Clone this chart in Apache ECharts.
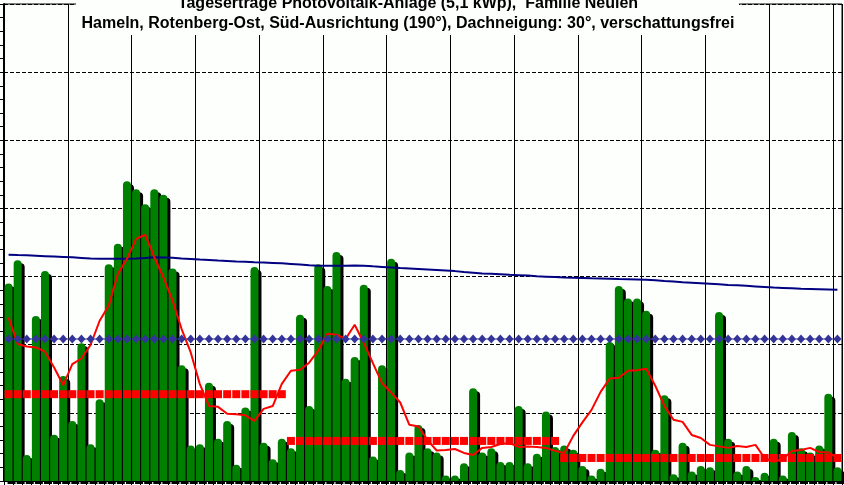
<!DOCTYPE html>
<html>
<head>
<meta charset="utf-8">
<script src="https://cdn.jsdelivr.net/npm/echarts@6/dist/echarts.min.js"></script>
<style>
  html, body { margin: 0; padding: 0; background: #fdfffd; }
  #chart { width: 844px; height: 485px; }
</style>
</head>
<body>
<div id="chart"></div>
<script>
// days per month shown and the monthly average (red squares)
const monthDays = [31, 30, 31];
const monthAvg = [6.37, 2.94, 1.69];

// daily yield (green bars)
const dailyYield = [
  14.5, 16.2, 1.9, 12.1, 15.4, 3.4, 7.7, 4.4, 10.1, 2.7, 6.0, 15.9, 17.4, 22.0, 21.4, 20.3,
  21.4, 21.0, 15.6, 8.5, 2.6, 2.7, 7.2, 3.1, 4.4, 1.2, 5.4, 15.7, 2.8, 1.6, 3.1,
  2.4, 12.2, 5.5, 15.9, 14.3, 16.8, 7.5, 9.1, 14.4, 1.8, 8.5, 16.3, 0.8, 2.1, 4.1,
  2.4, 2.1, 0.4, 0.4, 1.3, 6.8, 2.1, 2.4, 1.4, 1.4, 5.5, 1.3, 2.0, 5.1, 2.5,
  2.6, 2.3, 1.1, 0.4, 0.9, 10.2, 14.3, 13.4, 13.4, 12.5, 2.3, 6.3, 0.5, 2.8, 0.7, 1.1,
  1.0, 12.4, 3.1, 0.7, 1.1, 0.3, 0.6, 3.1, 0.4, 3.6, 2.4, 2.1, 2.6, 6.4, 1.0
];

// running mean (thin red line)
const runningMean = [
  12.0, 10.05, 9.87, 9.8, 9.49, 8.33, 7.04, 8.58, 8.99, 9.98, 11.76, 12.87, 15.2, 16.3, 17.77, 18.07,
  16.42, 14.95, 13.24, 11.15, 9.43, 7.11, 5.51, 5.44, 4.93, 4.89, 4.82, 4.41, 5.29, 5.5, 7.13,
  8.09, 8.16, 8.68, 9.56, 10.81, 10.74, 10.42, 11.47, 10.13, 8.65, 7.18, 6.49, 5.76, 4.12, 4.0,
  3.0, 2.24, 2.28, 2.35, 2.06, 1.91, 2.43, 2.5, 2.72, 2.79, 2.5, 2.54, 2.5, 2.43, 2.21,
  2.06, 3.31, 4.3, 5.22, 6.54, 7.52, 7.57, 8.09, 8.13, 8.24, 6.99, 5.51, 4.49, 4.34, 3.38, 3.16,
  2.65, 2.54, 2.43, 2.57, 2.5, 2.65, 1.69, 1.4, 1.62, 2.21, 2.28, 2.43, 2.13, 2.1, 1.69
];

// expected yield (navy line)
const expected = [
  16.61, 16.58, 16.56, 16.53, 16.5, 16.47, 16.44, 16.41, 16.37, 16.33, 16.3, 16.3, 16.3, 16.3, 16.32, 16.36,
  16.41, 16.4, 16.38, 16.33, 16.29, 16.25, 16.22, 16.18, 16.15, 16.11, 16.08, 16.05, 16.03, 16.0, 15.97,
  15.93, 15.89, 15.83, 15.8, 15.8, 15.8, 15.8, 15.81, 15.8, 15.75, 15.71, 15.67, 15.63, 15.6, 15.56,
  15.52, 15.48, 15.44, 15.4, 15.33, 15.28, 15.23, 15.2, 15.17, 15.13, 15.1, 15.07, 15.02, 14.99, 14.96,
  14.93, 14.91, 14.89, 14.87, 14.86, 14.84, 14.82, 14.81, 14.79, 14.77, 14.73, 14.68, 14.64, 14.59, 14.55, 14.51,
  14.47, 14.43, 14.39, 14.36, 14.32, 14.28, 14.24, 14.2, 14.17, 14.14, 14.11, 14.09, 14.07, 14.05, 14.03
];

// long term average (blue diamonds)
const yearAvg = 10.42;

const titleLines = [
  "Tageserträge Photovoltaik-Anlage (5,1 kWp),  Familie Neulen",
  "Hameln, Rotenberg-Ost, Süd-Ausrichtung (190°), Dachneigung: 30°, verschattungsfrei"
];

const days = [];
const monthLine = [];
monthDays.forEach(function (n, m) {
  for (let d = 1; d <= n; d++) {
    days.push((m + 1) + "-" + d);
    monthLine.push(monthAvg[m]);
  }
});
const avgLine = days.map(function () { return yearAvg; });

const chart = echarts.init(document.getElementById("chart"));
const titleFont = "bold 16px 'Liberation Sans', Arial, sans-serif";

chart.setOption({
  animation: false,
  backgroundColor: "#fdfffd",
  grid: {
    left: 4, right: 2, top: 4, bottom: 4,
    show: true, borderColor: "#000", borderWidth: 1
  },
  xAxis: {
    type: "category",
    data: days,
    boundaryGap: true,
    axisLine: { lineStyle: { color: "#000", width: 2 } },
    axisTick: { show: true, interval: 0, length: 4, lineStyle: { color: "#000" } },
    axisLabel: { show: false },
    splitLine: {
      show: true,
      interval: function (i) { return i % 7 === 0; },
      lineStyle: { color: "#000", width: 1 }
    }
  },
  yAxis: {
    type: "value",
    min: 0, max: 35, interval: 5,
    axisLine: { show: true, lineStyle: { color: "#000", width: 2 } },
    axisTick: { show: true, length: 4, lineStyle: { color: "#000" } },
    minorTick: { show: true, splitNumber: 5, length: 4, lineStyle: { color: "#000" } },
    axisLabel: { show: false },
    splitLine: { show: true, lineStyle: { color: "#000", width: 1, type: [4, 2] } }
  },
  series: [
    {
      type: "bar",
      data: dailyYield,
      barWidth: 8,
      itemStyle: {
        color: "#008000",
        borderRadius: [4, 4, 0, 0],
        shadowColor: "#000",
        shadowBlur: 0,
        shadowOffsetX: 3,
        shadowOffsetY: 3
      }
    },
    {
      type: "line",
      data: expected,
      symbol: "none",
      lineStyle: { color: "#000080", width: 2 }
    },
    {
      type: "line",
      data: avgLine,
      symbol: "diamond",
      symbolSize: [8, 9],
      showAllSymbol: true,
      itemStyle: { color: "#333399" },
      lineStyle: { color: "#333399", width: 1 }
    },
    {
      type: "line",
      data: monthLine,
      symbol: "rect",
      symbolSize: 8,
      showAllSymbol: true,
      itemStyle: { color: "#ff0000" },
      lineStyle: { width: 0, opacity: 0 }
    },
    {
      type: "line",
      data: runningMean,
      symbol: "none",
      lineStyle: { color: "#ff0000", width: 2 }
    }
  ],
  graphic: [
    {
      type: "line", z: 100,
      shape: { x1: 0, y1: 4.5, x2: 6, y2: 4.5 },
      style: { stroke: "#000", lineWidth: 1 }
    },
    {
      type: "rect", z: 100,
      shape: { x: 76, y: 0, width: 663, height: 35 },
      style: { fill: "#fdfffd" }
    },
    {
      type: "text", z: 101, x: 408, y: 4,
      style: {
        text: titleLines[0], font: titleFont, fill: "#000",
        align: "center", verticalAlign: "middle",
        textShadowColor: "rgba(200,130,0,0.6)", textShadowOffsetX: 1, textShadowOffsetY: 1
      }
    },
    {
      type: "text", z: 101, x: 408, y: 23.5,
      style: {
        text: titleLines[1], font: titleFont, fill: "#000",
        align: "center", verticalAlign: "middle",
        textShadowColor: "rgba(200,130,0,0.6)", textShadowOffsetX: 1, textShadowOffsetY: 1
      }
    }
  ]
});
</script>
</body>
</html>
